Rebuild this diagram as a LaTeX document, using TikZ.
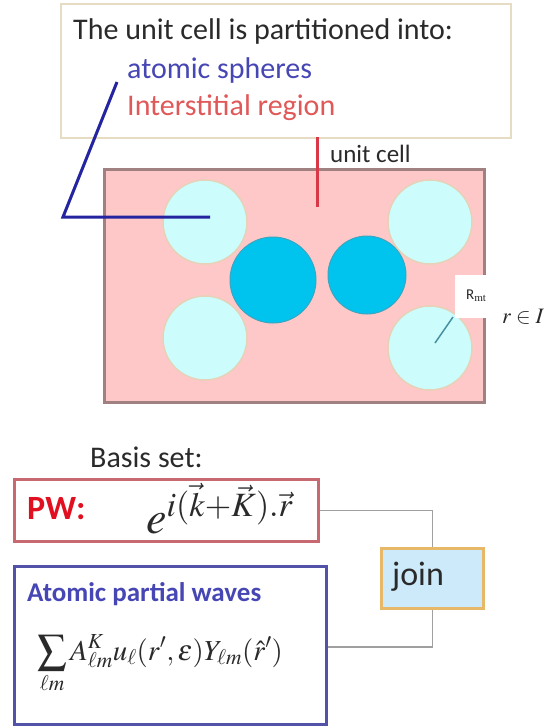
\documentclass[tikz,border=0pt]{standalone}
\usepackage{mathptmx}
\usepackage{fontspec}
\setmainfont{Carlito}
\usetikzlibrary{positioning}
\definecolor{ink}{HTML}{2A2A2A}
\definecolor{boxedge}{HTML}{E6DCC4}
\definecolor{atomblue}{HTML}{4646B4}
\definecolor{interred}{HTML}{E05858}
\definecolor{leadblue}{HTML}{2424A0}
\definecolor{leadred}{HTML}{D83848}
\definecolor{cellpink}{HTML}{FFC8C8}
\definecolor{celledge}{HTML}{A08080}
\definecolor{spherelt}{HTML}{CCFCFC}
\definecolor{sphereedge}{HTML}{E6D2B8}
\definecolor{spheredk}{HTML}{00C4EE}
\definecolor{spheredkedge}{HTML}{3AA6C0}
\definecolor{rmtline}{HTML}{4890A0}
\definecolor{pwedge}{HTML}{C86870}
\definecolor{pwtext}{HTML}{E01020}
\definecolor{apwedge}{HTML}{5252A8}
\definecolor{joinfill}{HTML}{CCEAFA}
\definecolor{joinedge}{HTML}{E6B868}
\definecolor{wirecol}{HTML}{A0A0A0}

\begin{document}
\begin{tikzpicture}[
  x=1pt,y=-1pt,
  font=\fontsize{30}{34}\selectfont, text=ink,
  frame/.style={draw=#1,line width=2pt,inner sep=0pt,anchor=north west},
  sphere/.style={circle,fill=spherelt,draw=sphereedge,line width=1.5pt,
    minimum size=84pt,inner sep=0pt},
  core/.style={circle,fill=spheredk,draw=spheredkedge,line width=1pt,
    inner sep=0pt},
  lbl/.style={anchor=west,inner sep=0pt},
  wire/.style={draw=wirecol,line width=1.5pt}
]
\useasboundingbox (0,0) rectangle (556,728);

% heading box
\node[frame=boxedge,minimum width=450pt,minimum height=134pt] (intro) at (60,3) {};
\node[lbl] (title) at (73,32) {The unit cell is partitioned into:};
\node[lbl,text=atomblue] (spheres) at (127,71) {atomic spheres};
\node[lbl,text=interred] (inter) at (127,108) {Interstitial region};

% unit cell
\node[frame=celledge,fill=cellpink,line width=2.5pt,
  minimum width=380pt,minimum height=233pt] (cell) at (103,168) {};
\node[lbl,font=\fontsize{25}{28}\selectfont] (celllab) at (330,154) {unit cell};

\node[sphere] (s1) at (205,222) {};
\node[sphere] (s2) at (205,338) {};
\node[sphere] (s3) at (430,222) {};
\node[sphere] (s4) at (430,348) {};
\node[core,minimum size=86pt] (c1) at (273,280) {};
\node[core,minimum size=78pt] (c2) at (367,275) {};

% muffin-tin radius label
\node[fill=white,anchor=north west,minimum width=110pt,minimum height=43pt,
  inner sep=0pt] (rmtbox) at (455,275) {};
\node[lbl,font=\fontsize{15}{17}\selectfont] (rmt) at (466,296) {R$_{\mathrm{mt}}$};
\node[anchor=base west,inner sep=0pt,font=\fontsize{22}{24}\selectfont] (rin) at (502,323) {$r\in I$};
\coordinate (rtip) at (435,343);
\coordinate (rend) at (453,317);
\draw[rmtline,line width=1.5pt] (rtip) -- (rend);

% leaders
\coordinate (bstart) at (117,82);
\coordinate (bknee) at (63,217);
\coordinate (bend) at (210,217);
\draw[leadblue,line width=3pt] (bstart) -- (bknee) -- (bend);
\coordinate (rstart) at (317,137);
\coordinate (rstop) at (317,207);
\draw[leadred,line width=3pt] (rstart) -- (rstop);

% basis set
\node[lbl] (basis) at (90,457) {Basis set:};
\node[frame=pwedge,line width=3pt,minimum width=304pt,minimum height=62pt] (pw) at (13,478) {};
\node[lbl,text=pwtext,font=\fontsize{34}{38}\selectfont\bfseries] (pwlab) at (27,509) {PW:};
\node[anchor=base west,inner sep=0pt,font=\fontsize{46}{50}\selectfont] (pwform) at (146,533)
  {$e^{i(\vec k+\vec K).\vec r}$};

\node[frame=apwedge,line width=3pt,minimum width=312pt,minimum height=158pt] (apw) at (13,565) {};
\node[lbl,text=atomblue,font=\fontsize{27}{31}\selectfont\bfseries] (apwlab) at (27,594)
  {Atomic partial waves};
\node[anchor=base west,inner sep=0pt,font=\fontsize{29}{33}\selectfont] (apwform) at (37,660)
  {$\displaystyle\sum_{\ell m} A^{K}_{\ell m}u_\ell(r',\varepsilon)Y_{\ell m}(\hat r')$};

\node[frame=joinedge,fill=joinfill,line width=3pt,minimum width=102pt,
  minimum height=60pt] (join) at (380,547) {};
\node[lbl,font=\fontsize{34}{38}\selectfont] (joinlab) at (392,577) {join};

\draw[wire] (pw.east) -- (pw.east -| join.north) -- (join.north);
\draw[wire] (apw.east |- 0,647) -- (join.south |- 0,647) -- (join.south);

\end{tikzpicture}
\end{document}
